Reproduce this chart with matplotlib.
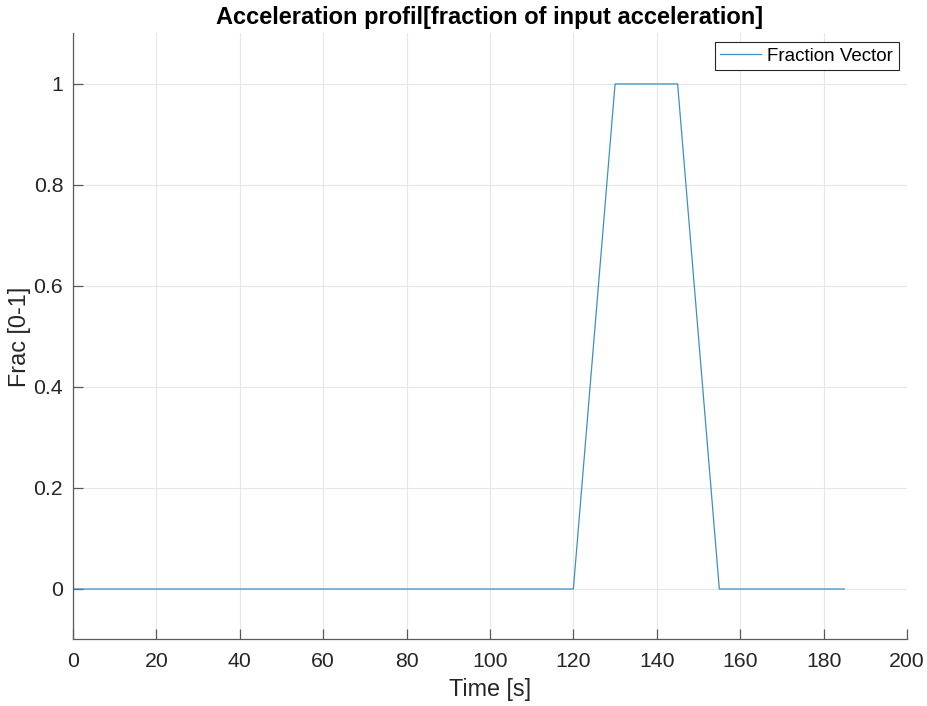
import matplotlib.pyplot as plt

# acceleration fraction profile over time
time_s = [0, 120, 130, 145, 155, 185]
fraction = [0, 0, 1, 1, 0, 0]

x_ticks = [0, 20, 40, 60, 80, 100, 120, 140, 160, 180, 200]
y_ticks = [0, 0.2, 0.4, 0.6, 0.8, 1]
y_tick_labels = ['0', '0.2', '0.4', '0.6', '0.8', '1']

plt.rcParams['font.family'] = ['Liberation Sans', 'DejaVu Sans']

fig = plt.figure(figsize=(9.27, 7.06), dpi=100)
ax = fig.add_axes([0.0787, 0.0942, 0.8997, 0.8584])

ax.plot(time_s, fraction, color='#3d8fc6', linewidth=0.9, label='Fraction Vector')

ax.set_xlim(0, 200)
ax.set_ylim(-0.1, 1.1)
ax.set_xticks(x_ticks)
ax.set_yticks(y_ticks)
ax.set_yticklabels(y_tick_labels)

ax.grid(True, color='#e6e6e6', linewidth=0.8)
ax.set_axisbelow(True)
for side in ['top', 'right']:
    ax.spines[side].set_visible(False)
for side in ['left', 'bottom']:
    ax.spines[side].set_color('#5a5a5a')
    ax.spines[side].set_linewidth(0.9)
ax.tick_params(direction='in', length=7, width=0.9, color='#5a5a5a',
               labelsize=15.3, labelcolor='#262626')
ax.tick_params(axis='x', pad=9)
ax.tick_params(axis='y', pad=7)

ax.set_xlabel('Time [s]', fontsize=16.8, color='#262626', labelpad=5)
ax.set_ylabel('Frac [0-1]', fontsize=16.8, color='#262626', labelpad=2)
ax.set_title('Acceleration profil[fraction of input acceleration]',
             fontsize=17, fontweight='bold', pad=7)

leg = ax.legend(loc='upper right', fontsize=13.5, fancybox=False, framealpha=1,
                edgecolor='#262626', handlelength=2.2, handletextpad=0.3,
                borderpad=0.3, borderaxespad=0.45)
leg.get_frame().set_linewidth(0.8)

fig.savefig('out.png', dpi=100)
